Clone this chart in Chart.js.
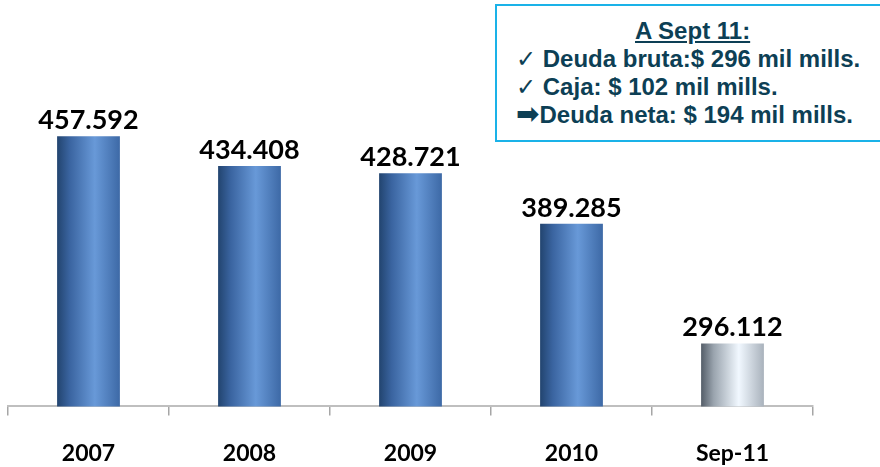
<!DOCTYPE html>
<html>
<head>
<meta charset="utf-8">
<script src="https://cdn.jsdelivr.net/npm/chart.js@4.4.1/dist/chart.umd.min.js"></script>
<style>
    html, body { margin: 0; padding: 0; background: #fff; }
    #wrap { position: relative; width: 880px; height: 467px; overflow: hidden; }
    #debtChart { position: absolute; left: 0; top: 0; }
    .note-box {
        position: absolute;
        left: 495px;
        top: 4px;
        width: 400px;
        height: 138px;
        box-sizing: border-box;
        border: 2px solid #1ab2e8;
        background: #fff;
        padding: 11px 0 0 19px;
        font-family: "Liberation Sans", Arial, sans-serif;
        font-weight: bold;
        font-size: 24px;
        line-height: 28px;
        color: #0d3f55;
        white-space: nowrap;
    }
    .note-box .title { text-decoration: underline; padding-left: 119px; }
    .note-box .mark { font-family: "DejaVu Sans", sans-serif; font-weight: normal; font-size: 24px; line-height: 20px; }
    .note-box .arrow { font-family: "DejaVu Sans", sans-serif; font-weight: bold; font-size: 28px; line-height: 20px; }
</style>
</head>
<body>
<div id="wrap">
    <canvas id="debtChart" width="880" height="467"></canvas>
    <div class="note-box">
        <div class="title">A Sept 11:</div>
        <div><span class="mark">✓</span> Deuda bruta:$ 296 mil mills.</div>
        <div><span class="mark">✓</span> Caja: $ 102 mil mills.</div>
        <div><span class="arrow">➡</span>Deuda neta: $ 194 mil mills.</div>
    </div>
</div>
<script>
// chart data
const categories = ['2007', '2008', '2009', '2010', 'Sep-11'];
const deudaBruta = [457.592, 434.408, 428.721, 389.285, 296.112];

// style for the cylinder-like bars
const BAR_RATIO = 0.39;
const BLUE_STOPS = [[0, '#22446f'], [0.2, '#3a64a0'], [0.6, '#6899d8'], [1, '#3d69a6']];
const GREY_STOPS = [[0, '#545d68'], [0.2, '#9aa4ae'], [0.6, '#f1f8ff'], [1, '#a9b2bc']];

function barFill(context) {
    const chart = context.chart;
    const xScale = chart.scales.x;
    if (!xScale || !chart.chartArea) return '#4f81bd';

    const i = context.dataIndex;
    const cx = xScale.getPixelForValue(i);
    const half = xScale.width / categories.length * BAR_RATIO / 2;
    const g = chart.ctx.createLinearGradient(cx - half, 0, cx + half, 0);
    const stops = i === categories.length - 1 ? GREY_STOPS : BLUE_STOPS;
    stops.forEach(([offset, color]) => g.addColorStop(offset, color));
    return g;
}

// draw the value above every bar
const valueLabels = {
    id: 'valueLabels',
    afterDatasetsDraw(chart) {
        const { ctx } = chart;
        const meta = chart.getDatasetMeta(0);
        ctx.save();
        ctx.font = 'bold 27px Lato';
        ctx.fillStyle = '#000';
        ctx.textAlign = 'center';
        ctx.textBaseline = 'alphabetic';
        meta.data.forEach((bar, i) => {
            ctx.fillText(deudaBruta[i].toFixed(3), bar.x, bar.y - 7);
        });
        ctx.restore();
    }
};

const debtConfig = {
    type: 'bar',
    data: {
        labels: categories,
        datasets: [{
            label: 'Deuda bruta',
            data: deudaBruta,
            backgroundColor: barFill,
            borderWidth: 0,
            barPercentage: BAR_RATIO,
            categoryPercentage: 1
        }]
    },
    options: {
        responsive: false,
        animation: false,
        layout: {
            padding: { left: 8, right: 67, top: 10, bottom: -24 }
        },
        plugins: {
            legend: { display: false },
            tooltip: { enabled: false }
        },
        scales: {
            x: {
                grid: {
                    display: true,
                    drawOnChartArea: false,
                    drawTicks: true,
                    tickLength: 9,
                    color: '#a6a6a6',
                    lineWidth: 1.5,
                    offset: true
                },
                border: { display: true, color: '#bfbfbf', width: 2 },
                ticks: {
                    color: '#000',
                    padding: 24,
                    font: { family: 'Lato', size: 23, weight: 'bold' }
                }
            },
            y: {
                display: false,
                min: 247,
                max: 556
            }
        }
    },
    plugins: [valueLabels]
};

document.fonts.load('bold 27px Lato').then(() => {
    new Chart(document.getElementById('debtChart'), debtConfig);
});
</script>
</body>
</html>
